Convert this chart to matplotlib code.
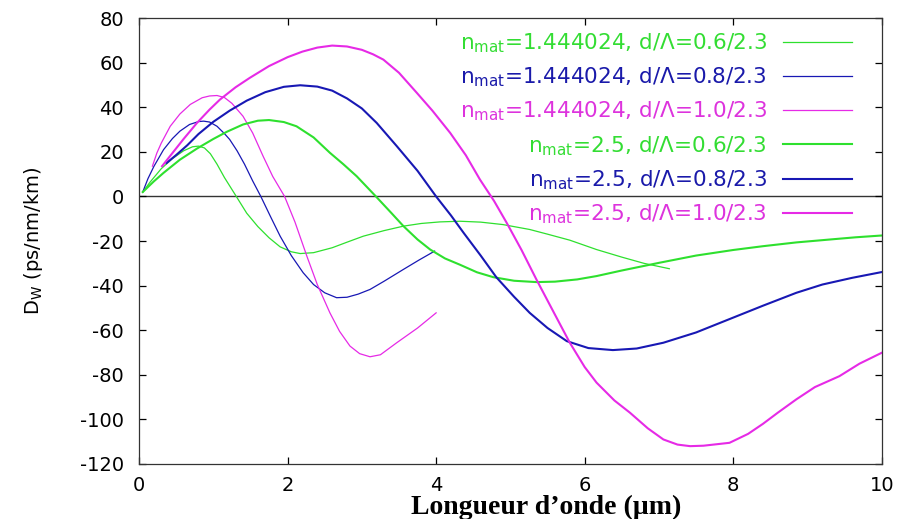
import numpy as np
import matplotlib
matplotlib.use('Agg')
import matplotlib.pyplot as plt

plt.rcParams['font.family'] = ['DejaVu Sans']
plt.rcParams['mathtext.fontset'] = 'dejavusans'
plt.rcParams['axes.unicode_minus'] = False

# courbes (lambda en um, D_W en ps/nm/km)
# n_mat = 1.444024
x_a06 = [0.05, 0.15, 0.3, 0.45, 0.6, 0.72, 0.8, 0.88, 0.96, 1.05, 1.15, 1.31, 1.45, 1.6, 1.75, 1.9, 2.05,
         2.17, 2.35, 2.6, 2.8, 3.02, 3.3, 3.56, 3.8, 4.05, 4.32, 4.6, 4.9, 5.26, 5.5, 5.8, 6.16, 6.5, 6.8, 7.14]
y_a06 = [2.0, 6.5, 12.5, 17.0, 20.5, 22.3, 22.6, 21.8, 19.2, 14.5, 8.5, 0.0, -7.5, -13.5, -18.5, -22.6, -24.8,
         -25.6, -25.2, -23.0, -20.5, -17.8, -15.3, -13.3, -12.1, -11.4, -11.1, -11.5, -12.6, -14.8, -16.9, -19.6,
         -23.8, -27.2, -30.0, -32.4]

x_a08 = [0.05, 0.12, 0.2, 0.33, 0.45, 0.55, 0.68, 0.8, 0.87, 0.95, 1.05, 1.15, 1.22, 1.32, 1.42, 1.53, 1.64,
         1.77, 1.9, 2.05, 2.21, 2.35, 2.5, 2.66, 2.8, 2.95, 3.11, 3.3, 3.56, 3.77, 3.98]
y_a08 = [2.0, 8.0, 13.5, 21.0, 26.0, 29.3, 32.3, 33.6, 33.8, 33.4, 31.5, 28.2, 25.6, 20.5, 14.5, 7.0, 0.0,
         -9.0, -17.8, -26.5, -34.2, -39.5, -43.2, -45.4, -45.2, -43.8, -41.7, -38.0, -32.7, -28.5, -24.5]

x_a10 = [0.18, 0.24, 0.3, 0.42, 0.55, 0.69, 0.85, 0.95, 1.05, 1.15, 1.25, 1.4, 1.53, 1.67, 1.8, 1.96, 2.1,
         2.26, 2.4, 2.57, 2.7, 2.84, 2.97, 3.11, 3.25, 3.47, 3.75, 4.0]
y_a10 = [13.6, 19.5, 24.0, 31.5, 37.0, 41.3, 44.3, 45.1, 45.3, 44.4, 41.8, 36.0, 28.5, 18.1, 9.0, 0.0, -11.5,
         -26.8, -39.5, -52.2, -60.5, -67.1, -70.5, -71.9, -71.0, -65.6, -59.0, -52.2]

# n_mat = 2.5
x_b06 = [0.05, 0.2, 0.33, 0.55, 0.78, 1.0, 1.18, 1.4, 1.6, 1.75, 1.95, 2.12, 2.35, 2.57, 2.75, 2.93, 3.19,
         3.4, 3.56, 3.75, 3.92, 4.12, 4.32, 4.55, 4.77, 5.05, 5.35, 5.6, 5.9, 6.16, 6.5, 7.01, 7.5, 8.0, 8.4,
         8.85, 9.3, 9.65, 10.0]
y_b06 = [2.0, 6.8, 10.6, 16.5, 21.5, 25.8, 29.0, 32.3, 34.0, 34.3, 33.4, 31.5, 26.5, 19.6, 14.5, 9.1, 0.0,
         -7.5, -13.3, -19.3, -23.8, -27.8, -30.6, -34.0, -36.2, -37.8, -38.4, -38.2, -37.2, -35.7, -33.2, -29.7,
         -26.5, -24.0, -22.3, -20.6, -19.3, -18.3, -17.5]

x_b08 = [0.37, 0.5, 0.65, 0.8, 1.0, 1.22, 1.45, 1.7, 1.95, 2.17, 2.4, 2.6, 2.8, 3.0, 3.2, 3.47, 3.75, 4.0,
         4.2, 4.37, 4.6, 4.81, 5.05, 5.26, 5.5, 5.76, 6.05, 6.38, 6.7, 7.06, 7.5, 7.95, 8.4, 8.85, 9.2, 9.6, 10.0]
y_b08 = [15.0, 18.6, 23.0, 28.0, 33.5, 38.5, 43.0, 46.8, 49.2, 49.9, 49.3, 47.5, 44.0, 39.5, 33.0, 22.6, 11.5,
         0.0, -8.5, -16.3, -26.5, -36.2, -45.0, -52.2, -59.0, -64.9, -68.0, -68.9, -68.2, -65.6, -61.0, -55.0,
         -49.0, -43.2, -39.5, -36.5, -33.9]

x_b10 = [0.31, 0.45, 0.6, 0.78, 0.95, 1.09, 1.3, 1.49, 1.75, 2.0, 2.2, 2.4, 2.6, 2.8, 3.0, 3.15, 3.29, 3.5,
         3.74, 3.95, 4.19, 4.4, 4.59, 4.78, 4.95, 5.15, 5.35, 5.6, 5.8, 6.0, 6.16, 6.4, 6.61, 6.85, 7.06, 7.25,
         7.42, 7.6, 7.95, 8.2, 8.4, 8.6, 8.85, 9.1, 9.43, 9.7, 10.0]
y_b10 = [13.6, 19.5, 25.8, 33.0, 39.0, 43.5, 49.0, 53.2, 58.5, 62.5, 65.0, 66.8, 67.7, 67.3, 65.8, 63.8, 61.4,
         55.5, 46.5, 38.5, 28.5, 18.5, 7.6, -2.0, -11.8, -24.0, -37.2, -53.0, -65.6, -76.5, -83.5, -91.5, -97.0,
         -104.0, -109.0, -111.3, -112.0, -111.8, -110.5, -106.5, -102.0, -97.0, -91.0, -85.5, -80.6, -75.0, -70.1]

labels = [r'n$_\mathregular{mat}$=1.444024, d/Λ=0.6/2.3',
          r'n$_\mathregular{mat}$=1.444024, d/Λ=0.8/2.3',
          r'n$_\mathregular{mat}$=1.444024, d/Λ=1.0/2.3',
          r'n$_\mathregular{mat}$=2.5, d/Λ=0.6/2.3',
          r'n$_\mathregular{mat}$=2.5, d/Λ=0.8/2.3',
          r'n$_\mathregular{mat}$=2.5, d/Λ=1.0/2.3']

green = '#2ee02e'
blue = '#1818b4'
magenta = '#e62ae6'
txt_colors = ['#33dd33', '#1a1aaa', '#dd33dd', '#33dd33', '#1a1aaa', '#dd33dd']

fig, ax = plt.subplots(figsize=(8.97, 5.19), dpi=100)
plt.subplots_adjust(left=0.155, right=0.983, top=0.965, bottom=0.106)

ax.axhline(0, color='#333333', lw=1.0, zorder=1)

series = [
    (x_a06, y_a06, green, 0.9),
    (x_a08, y_a08, blue, 0.9),
    (x_a10, y_a10, magenta, 0.9),
    (x_b06, y_b06, green, 1.5),
    (x_b08, y_b08, blue, 1.5),
    (x_b10, y_b10, magenta, 1.5),
]
for (xs, ys, c, lw), lab in zip(series, labels):
    ax.plot(xs, ys, color=c, lw=lw, label=lab, solid_joinstyle='round')

ax.set_xlim(0, 10)
ax.set_ylim(-120, 80)
ax.set_xticks(np.arange(0, 11, 2))
ax.set_yticks(np.arange(-120, 81, 20))
ax.tick_params(direction='in', length=5, width=0.9, top=True, right=True, labelsize=14)
ax.tick_params(axis='y', pad=11)
ax.tick_params(axis='x', pad=9)
for s in ax.spines.values():
    s.set_linewidth(0.9)
    s.set_color('#333333')

ax.set_ylabel(r'D$_\mathregular{W}$ (ps/nm/km)', fontsize=14)
ax.yaxis.set_label_coords(-0.127, 0.5)
ax.set_xlabel('Longueur d’onde (µm)', fontsize=20, fontweight='bold',
              family='Liberation Serif')
ax.xaxis.set_label_coords(0.548, -0.069)

leg = ax.legend(loc='upper right', bbox_to_anchor=(0.96, 0.97), frameon=False,
                markerfirst=False, fontsize=15.5, handlelength=3.2,
                handletextpad=0.75, labelspacing=0.49, borderaxespad=0, borderpad=0)
for t, c in zip(leg.get_texts(), txt_colors):
    t.set_color(c)

fig.savefig('out.png', dpi=100)
